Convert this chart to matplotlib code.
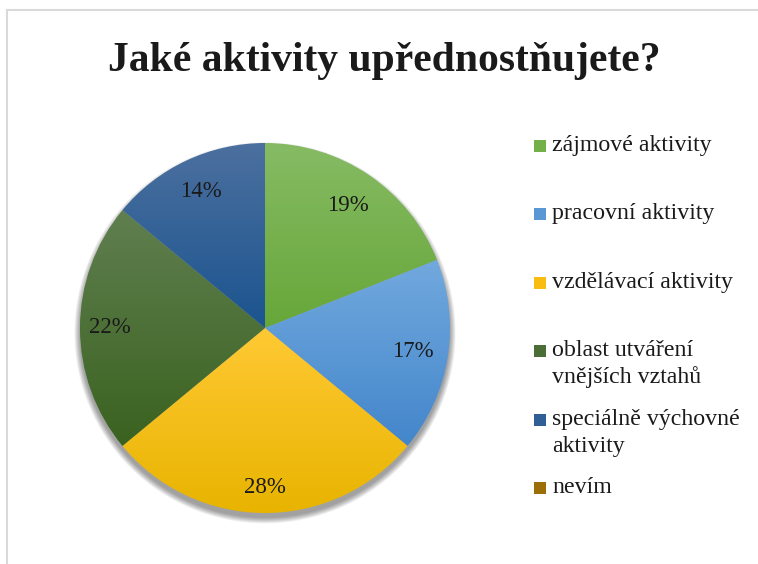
import numpy as np
import matplotlib
matplotlib.use("Agg")
import matplotlib.pyplot as plt
from matplotlib.colors import LinearSegmentedColormap
from matplotlib.patches import Circle, Rectangle
from matplotlib.lines import Line2D

# data
title = "Jaké aktivity upřednostňujete?"
categories = ["zájmové aktivity", "pracovní aktivity", "vzdělávací aktivity",
              "oblast utváření\nvnějších vztahů", "speciálně výchovné\naktivity", "nevím"]
shares = [19, 17, 28, 22, 14, 0]

# styling: (top colour, bottom colour) of each slice's gradient fill
grad_top = ["#86bb64", "#72a9de", "#ffc934", "#607f50", "#4c709f", "#a87e1c"]
grad_bot = ["#67a739", "#4386cb", "#e8b400", "#3a621f", "#1b548f", "#8c6200"]
legend_col = ["#74af4a", "#5a98d5", "#f8bd10", "#4b6e37", "#2f5f95", "#9b6f08"]
label_r = [0.80, 0.81, 0.86, 0.84, 0.815, 0.8]

W, H = 758, 564
plt.rcParams["font.family"] = ["Liberation Serif", "DejaVu Serif"]
fig = plt.figure(figsize=(W / 100, H / 100), dpi=100)

# pie axes: centre (265, 328) px, radius 185 px
cx, cy, r = 265, 328, 185
ax = fig.add_axes([(cx - r) / W, (H - cy - r) / H, 2 * r / W, 2 * r / H])

wedges, _, autotexts = ax.pie(
    shares, startangle=90, counterclock=False, radius=1,
    autopct=lambda p: f"{p:.0f}%" if p > 0.5 else "",
    pctdistance=0.82, wedgeprops=dict(linewidth=0),
    textprops=dict(fontsize=16.5, color="#1a1a1a"))

# soft drop shadow, mostly below the pie
for k in range(12):
    ax.add_patch(Circle((0, -0.026), 1.0 + k * 0.0028, color="black",
                        alpha=0.035, lw=0, zorder=0, clip_on=False))

# gradient fill clipped to each wedge
grad = np.linspace(0, 1, 256)[:, None]
for i, w in enumerate(wedges):
    if shares[i] <= 0:
        continue
    v = w.get_path().vertices
    x0, x1 = v[:, 0].min(), v[:, 0].max()
    y0, y1 = v[:, 1].min(), v[:, 1].max()
    cmap = LinearSegmentedColormap.from_list(f"g{i}", [grad_bot[i], grad_top[i]])
    im = ax.imshow(grad, extent=(x0, x1, y0, y1), origin="lower", cmap=cmap,
                   aspect="auto", zorder=1, interpolation="bilinear")
    im.set_clip_path(w)
    w.set_facecolor("none")
    w.set_zorder(1)

for i, (w, t) in enumerate(zip(wedges, autotexts)):
    th = np.deg2rad((w.theta1 + w.theta2) / 2)
    t.set_position((label_r[i] * np.cos(th), label_r[i] * np.sin(th)))
    t.set_zorder(3)

ax.set_xlim(-1, 1)
ax.set_ylim(-1, 1)
ax.set_aspect("equal")
ax.axis("off")

# title
fig.text(384 / W, 1 - 71 / H, title, ha="center", va="baseline",
         fontsize=30, fontweight="bold", color="#1a1a1a")

# legend, first-line baselines evenly spaced as in the original
base0, step, line_h = 151, 68.4, 27
for i, lab in enumerate(categories):
    yb = base0 + i * step
    fig.add_artist(Rectangle((534 / W, 1 - (yb + 1) / H), 12 / W, 12 / H,
                             transform=fig.transFigure, color=legend_col[i], lw=0))
    for j, line in enumerate(lab.split("\n")):
        fig.text(552 / W, 1 - (yb + j * line_h) / H, line, ha="left",
                 va="baseline", fontsize=17.2, color="#1a1a1a")

# chart area frame (top and left edges visible)
fc = "#d9d9d9"
fig.add_artist(Line2D([6.5 / W, 6.5 / W], [0, 1 - 10 / H], color=fc, lw=1.5,
                      transform=fig.transFigure))
fig.add_artist(Line2D([6.5 / W, 1], [1 - 10 / H, 1 - 10 / H], color=fc, lw=1.5,
                      transform=fig.transFigure))

fig.savefig("out.png", dpi=100)
